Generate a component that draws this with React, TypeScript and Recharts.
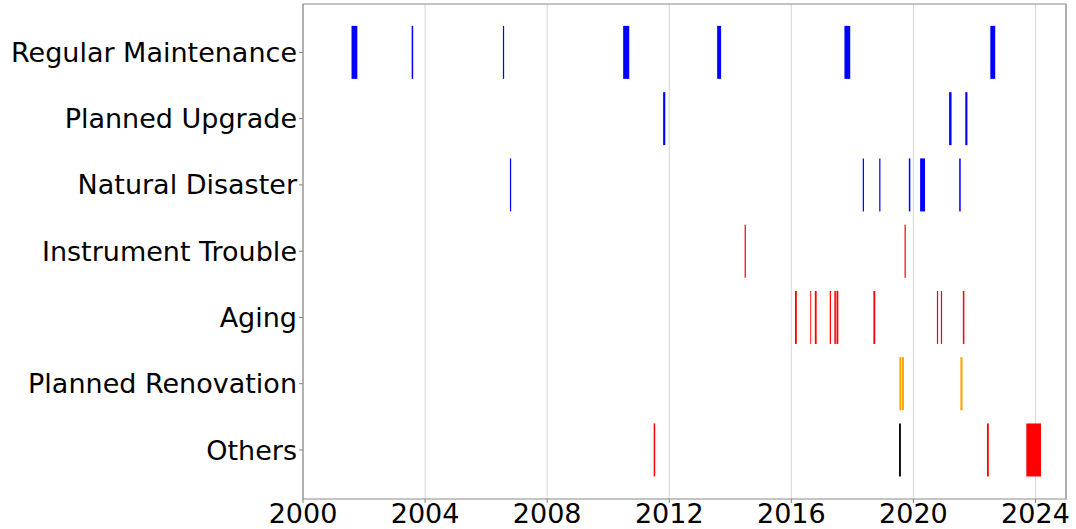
import React from "react"
import { ComposedChart, XAxis, YAxis, CartesianGrid, ReferenceArea, Scatter } from "recharts"

// outage categories, top to bottom
const categories = [
  "Regular Maintenance",
  "Planned Upgrade",
  "Natural Disaster",
  "Instrument Trouble",
  "Aging",
  "Planned Renovation",
  "Others",
]

// [start, end] in decimal years
const regularMaintenance = [
  [2001.59, 2001.78],
  [2003.56, 2003.61],
  [2006.55, 2006.59],
  [2010.49, 2010.69],
  [2013.57, 2013.7],
  [2017.74, 2017.93],
  [2022.52, 2022.68],
]
const plannedUpgrade = [
  [2011.8, 2011.87],
  [2021.17, 2021.25],
  [2021.7, 2021.77],
]
const naturalDisaster = [
  [2006.78, 2006.82],
  [2018.34, 2018.38],
  [2018.88, 2018.92],
  [2019.85, 2019.9],
  [2020.22, 2020.38],
  [2021.5, 2021.55],
]
const instrumentTrouble = [
  [2014.47, 2014.51],
  [2019.71, 2019.75],
]
const aging = [
  [2016.12, 2016.18],
  [2016.62, 2016.65],
  [2016.77, 2016.83],
  [2017.26, 2017.3],
  [2017.41, 2017.46],
  [2017.48, 2017.54],
  [2018.69, 2018.75],
  [2020.77, 2020.81],
  [2020.9, 2020.94],
  [2021.62, 2021.67],
]
const plannedRenovation = [
  [2019.54, 2019.6],
  [2019.62, 2019.69],
  [2021.54, 2021.61],
]
const others = [
  [2011.49, 2011.54],
  [2019.53, 2019.59],
  [2022.41, 2022.47],
  [2023.7, 2024.18],
]

const xTicks = [2000, 2004, 2008, 2012, 2016, 2020, 2024]

const events = [
  regularMaintenance,
  plannedUpgrade,
  naturalDisaster,
  instrumentTrouble,
  aging,
  plannedRenovation,
  others,
]

const rowColors = ["#0000ff", "#0000ff", "#0000ff", "#ff0000", "#ff0000", "#ffa500", null]
const othersColors = ["#ff0000", "#000000", "#ff0000", "#ff0000"]

const Y_MIN = -0.73
const Y_MAX = 6.74
const BAR_HALF = 0.4

export default function App() {
  const font = "'DejaVu Sans', sans-serif"
  return (
    <div style={{ position: "absolute", left: 0, top: 0, background: "#fff" }}>
      <ComposedChart width={1076} height={529} margin={{ top: 4, right: 10, bottom: 0, left: 0 }}>
        <CartesianGrid horizontal={false} stroke="#d6d6d6" strokeWidth={1} />
        <XAxis
          type="number"
          dataKey="x"
          domain={[2000, 2025]}
          ticks={xTicks}
          allowDataOverflow
          height={30}
          tickSize={4}
          tickMargin={1}
          stroke="#808080"
          axisLine={false}
          tick={{ fill: "#000", fontSize: 27, fontFamily: font }}
        />
        <YAxis
          type="number"
          dataKey="y"
          domain={[Y_MIN, Y_MAX]}
          reversed
          allowDataOverflow
          ticks={[0, 1, 2, 3, 4, 5, 6]}
          tickFormatter={(v) => categories[v] ?? ""}
          width={303}
          tickSize={4}
          tickMargin={2}
          stroke="#808080"
          axisLine={false}
          tick={{ fill: "#000", fontSize: 27, fontFamily: font }}
        />
        <Scatter data={[]} isAnimationActive={false} />
        {events.map((rows, i) =>
          rows.map(([s, e], j) => (
            <ReferenceArea
              key={`ev-${i}-${j}`}
              x1={s}
              x2={e}
              y1={i - BAR_HALF}
              y2={i + BAR_HALF}
              fill={rowColors[i] ?? othersColors[j]}
              fillOpacity={1}
              stroke="none"
              ifOverflow="visible"
            />
          ))
        )}
        <ReferenceArea
          x1={2000}
          x2={2025}
          y1={Y_MIN}
          y2={Y_MAX}
          fill="none"
          stroke="#8a8a8a"
          strokeWidth={1.2}
          ifOverflow="visible"
        />
      </ComposedChart>
    </div>
  )
}
